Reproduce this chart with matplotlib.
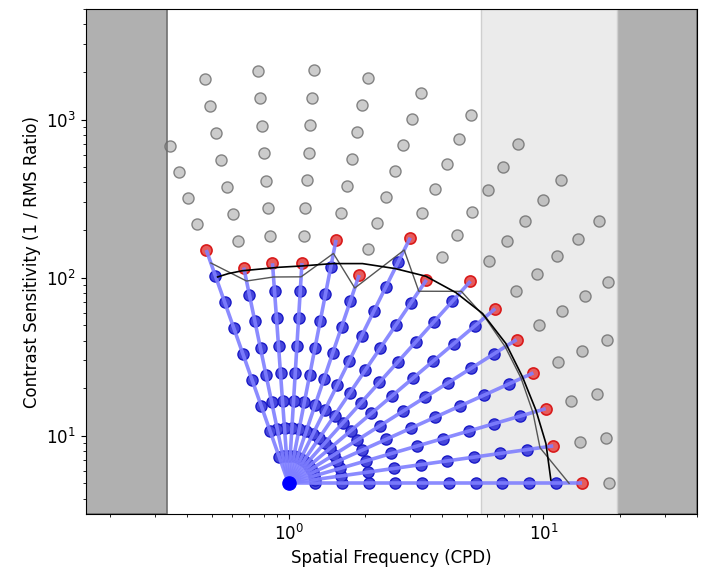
import matplotlib
matplotlib.use("Agg")
import matplotlib.pyplot as plt
import numpy as np

# radial sampling grid in log-log space, centred on (1 cpd, CS 5)
center_cpd = 1.0
center_cs = 5.0
step_logx = 0.1048   # decades of cpd per ring
step_logy = 0.1745   # decades of CS per ring

ray_angles = [0.0, 7.8, 15.7, 23.6, 31.4, 39.3, 47.1, 55.0, 62.9, 70.7, 78.6, 86.4, 94.3, 102.1, 110.0]
threshold_ring = [11, 10, 10, 10, 10, 10, 10, 9, 10, 8, 9, 8, 8, 8, 9]   # red point on each ray
last_ring = [12, 12, 12, 13, 14, 15, 15, 15, 15, 15, 15, 15, 15, 15, 13]   # outermost (grey) point

# fitted CSF curve
fit_cpd = [0.527, 0.58, 0.66, 0.919, 1.135, 1.488, 1.95, 2.62, 3.46, 4.53, 5.77, 7.12, 8.27, 9.34, 10.22, 10.69]
fit_cs = [101, 106, 110.6, 116.3, 118.6, 122.7, 122.7, 114.1, 102, 80.5, 59.3, 38.3, 23.6, 14.5, 8.95, 5.25]

# shaded frequency bands
low_limit = 0.333
band_start = 5.68
high_limit = 19.4
x_range = (0.16, 40)
y_range = (3.2, 5000)

fig = plt.figure(figsize=(7.03, 5.74), dpi=100)
ax = fig.add_axes([85.6 / 703, 60 / 574, (697 - 85.6) / 703, (514 - 9) / 574])
ax.set_xscale('log')
ax.set_yscale('log')

ax.axvspan(x_range[0], low_limit, facecolor='#b0b0b0', edgecolor='#707070', lw=1.2, zorder=0)
ax.axvspan(high_limit, x_range[1], facecolor='#b0b0b0', edgecolor='#707070', lw=1.2, zorder=0)
ax.axvspan(band_start, high_limit, facecolor='#ebebeb', edgecolor='#cfcfcf', lw=1.0, zorder=0)

thr_x, thr_y = [], []
for ang, n_thr, n_last in zip(ray_angles, threshold_ring, last_ring):
    a = np.deg2rad(ang)
    k = np.arange(1, n_last + 1)
    xs = center_cpd * 10 ** (k * step_logx * np.cos(a))
    ys = center_cs * 10 ** (k * step_logy * np.sin(a))
    seen = k < n_thr
    red = k == n_thr
    grey = k > n_thr

    ax.plot(xs[grey], ys[grey], 'o', ls='none', ms=8, mfc=(0.5, 0.5, 0.5, 0.4),
            mec=(0.42, 0.42, 0.42, 0.8), mew=1.0, zorder=2)
    ax.plot(xs[seen], ys[seen], 'o', ls='none', ms=8, mfc=(0.28, 0.28, 0.86),
            mec=(0.1, 0.1, 0.78), mew=1.0, zorder=3)
    ax.plot(xs[red], ys[red], 'o', ls='none', ms=8, mfc=(0.9, 0.36, 0.36),
            mec=(0.85, 0.1, 0.1), mew=1.2, zorder=3)
    ax.plot([center_cpd, xs[red][0]], [center_cs, ys[red][0]], color='#7f7fff',
            lw=2.6, alpha=0.9, solid_capstyle='butt', zorder=4)

    r = n_thr - 0.5
    thr_x.append(center_cpd * 10 ** (r * step_logx * np.cos(a)))
    thr_y.append(center_cs * 10 ** (r * step_logy * np.sin(a)))

ax.plot(thr_x, thr_y, color='#555555', lw=1.0, zorder=5)
ax.plot(fit_cpd, fit_cs, color='black', lw=1.2, zorder=6)
ax.plot(center_cpd, center_cs, 'o', color='blue', ms=9.5, zorder=7)

ax.set_xlim(*x_range)
ax.set_ylim(*y_range)
ax.set_xlabel('Spatial Frequency (CPD)', fontsize=12)
ax.set_ylabel('Contrast Sensitivity (1 / RMS Ratio)', fontsize=12)
ax.tick_params(labelsize=12)

fig.savefig('out.png', dpi=100)
